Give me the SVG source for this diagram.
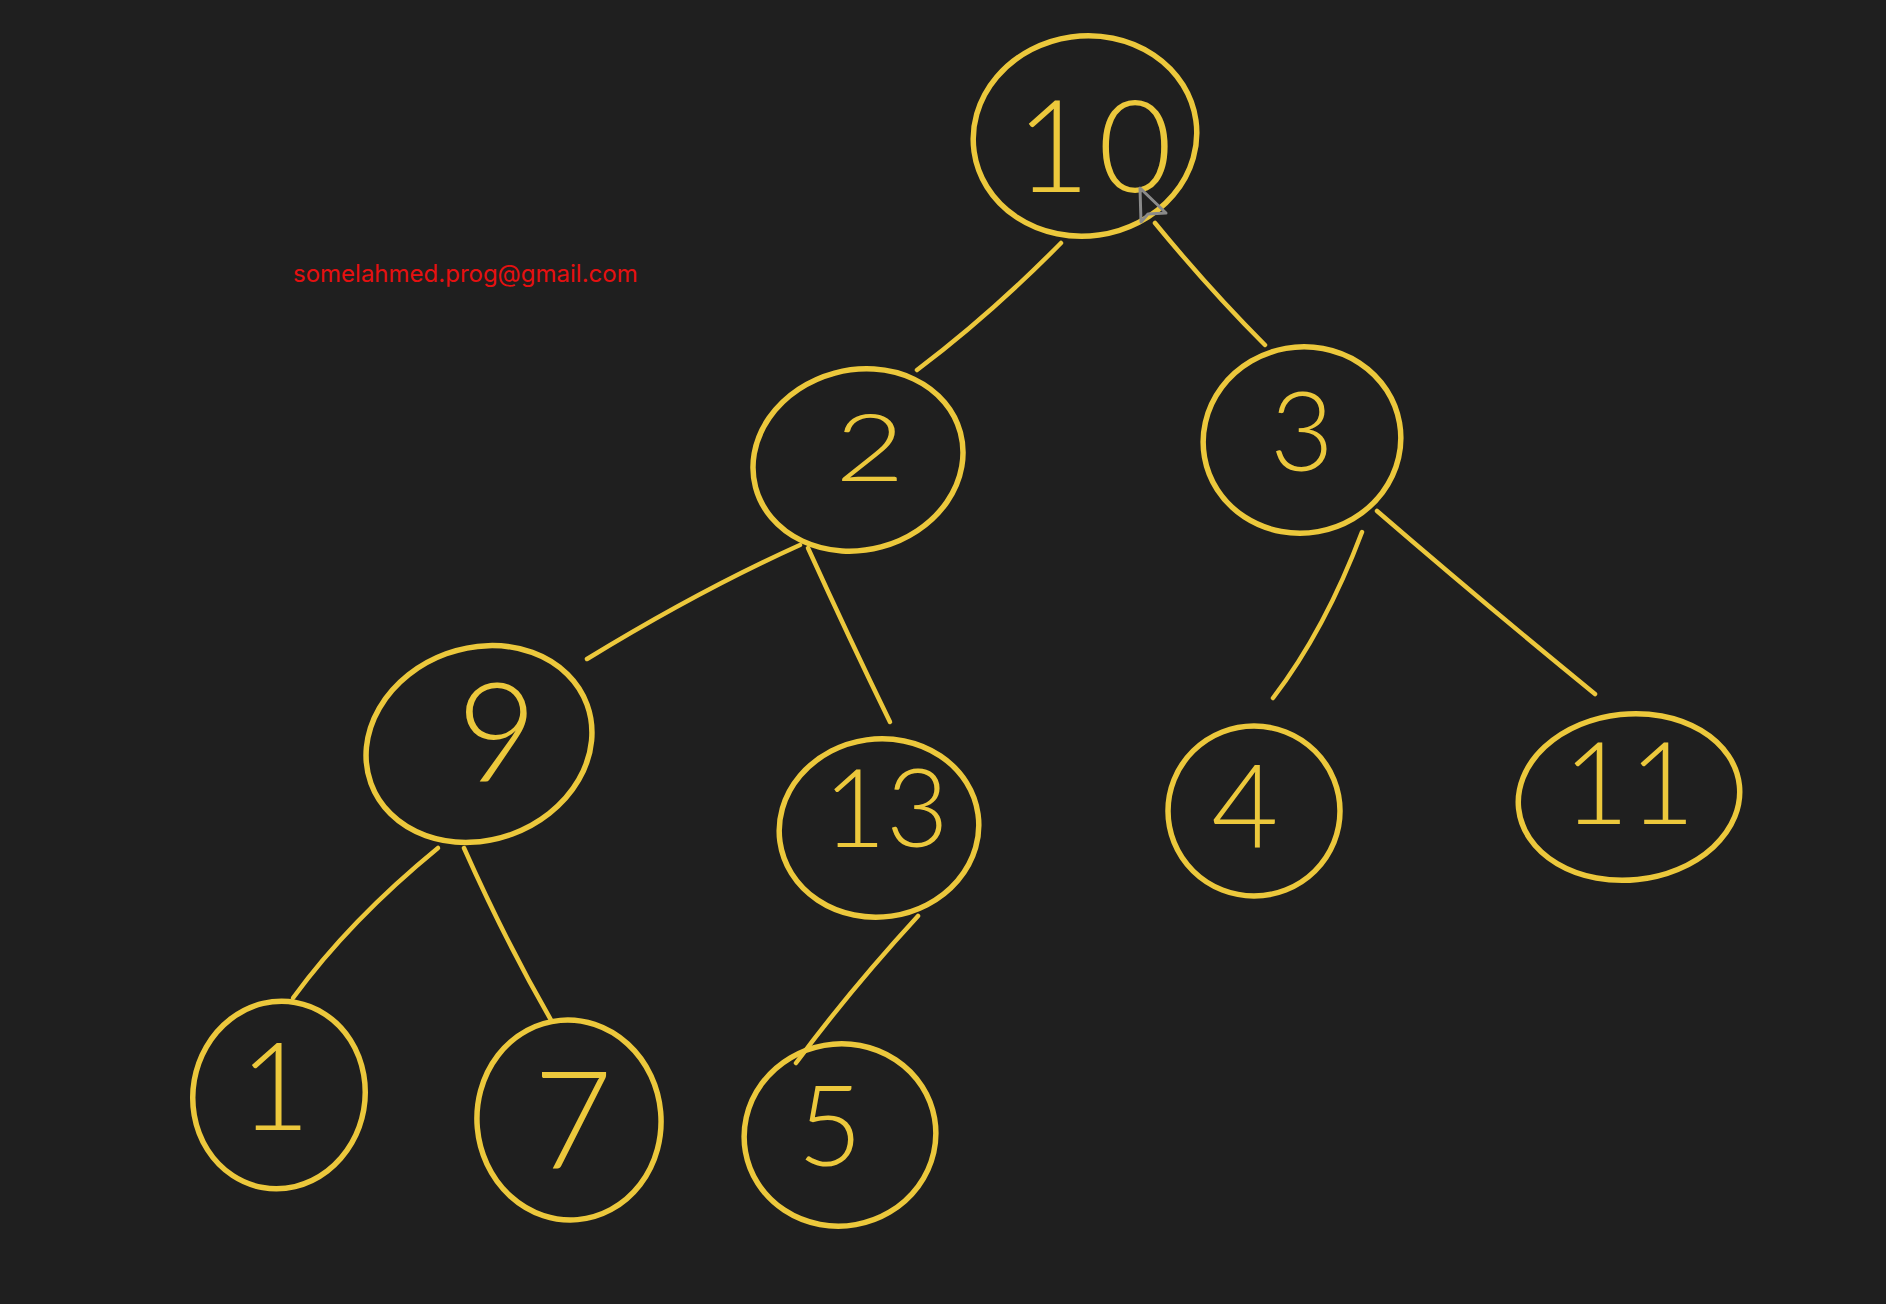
<svg xmlns="http://www.w3.org/2000/svg" width="1886" height="1304" viewBox="0 0 1886 1304">
<style>
.ring{fill:none;stroke:#ecc83c;stroke-width:5.5;stroke-linecap:round}
.edge{fill:none;stroke:#ecc83c;stroke-width:4.5;stroke-linecap:round}
.num{fill:#ecc83c;font-family:"Lato","Noto Sans",sans-serif;font-weight:300;text-anchor:middle}
.mail{fill:#e61010;font-family:"Inter","Liberation Sans",sans-serif;font-size:24px}
</style>
<rect width="1886" height="1304" fill="#1f1f1f"/>
<text class="mail" x="293" y="282">somelahmed.prog@gmail.com</text>
<g id="connectors">
<path class="edge" d="M1061,243 Q990,315 917,370"/>
<path class="edge" d="M1155,223 Q1210,290 1265,345"/>
<path class="edge" d="M800,545 Q700,590 587,659"/>
<path class="edge" d="M808,548 Q850,640 890,722"/>
<path class="edge" d="M1362,532 Q1325,630 1273,698"/>
<path class="edge" d="M1377,511 Q1480,600 1595,694"/>
<path class="edge" d="M438,848 Q350,920 293,998"/>
<path class="edge" d="M464,848 Q505,940 551,1020"/>
<path class="edge" d="M918,916 Q850,990 796,1063"/>
</g>
<g id="n10"><ellipse class="ring" cx="1085" cy="136" rx="112" ry="100" transform="rotate(-8 1085 136)"/><text class="num" x="1098" y="192" font-size="128" letter-spacing="8">10</text></g>
<g id="n2"><ellipse class="ring" cx="858" cy="460" rx="106" ry="90" transform="rotate(-15 858 460)"/><text class="num" x="870" y="481" font-size="92" transform="translate(870 0) scale(1.3 1) translate(-870 0)">2</text></g>
<g id="n3"><ellipse class="ring" cx="1302" cy="440" rx="99" ry="93" transform="rotate(-10 1302 440)"/><text class="num" x="1302" y="471" font-size="110">3</text></g>
<g id="n9"><ellipse class="ring" cx="479" cy="744" rx="115" ry="96" transform="rotate(-20 479 744)"/><text class="num" x="497" y="782" font-size="138">9</text></g>
<g id="n13"><ellipse class="ring" cx="879" cy="828" rx="100" ry="89" transform="rotate(-8 879 828)"/><text class="num" x="886" y="847" font-size="108">13</text></g>
<g id="n4"><ellipse class="ring" cx="1254" cy="811" rx="86" ry="85"/><text class="num" x="1245" y="848" font-size="116">4</text></g>
<g id="n11"><ellipse class="ring" cx="1629" cy="797" rx="111" ry="83" transform="rotate(-6 1629 797)"/><text class="num" x="1629" y="824" font-size="114">11</text></g>
<g id="n1"><ellipse class="ring" cx="279" cy="1095" rx="86" ry="94" transform="rotate(10 279 1095)"/><text class="num" x="275" y="1130" font-size="122">1</text></g>
<g id="n7"><ellipse class="ring" cx="569" cy="1120" rx="92" ry="100" transform="rotate(-5 569 1120)"/><text class="num" x="573" y="1169" font-size="136">7</text></g>
<g id="n5"><ellipse class="ring" cx="840" cy="1135" rx="96" ry="91" transform="rotate(-10 840 1135)"/><text class="num" x="830" y="1166" font-size="112">5</text></g>
<g id="cursor"><path d="M1140,188 L1141,222 L1148,214 L1166,213 Z" fill="none" stroke="#8a8a8a" stroke-width="3" stroke-linejoin="round"/></g>
</svg>
